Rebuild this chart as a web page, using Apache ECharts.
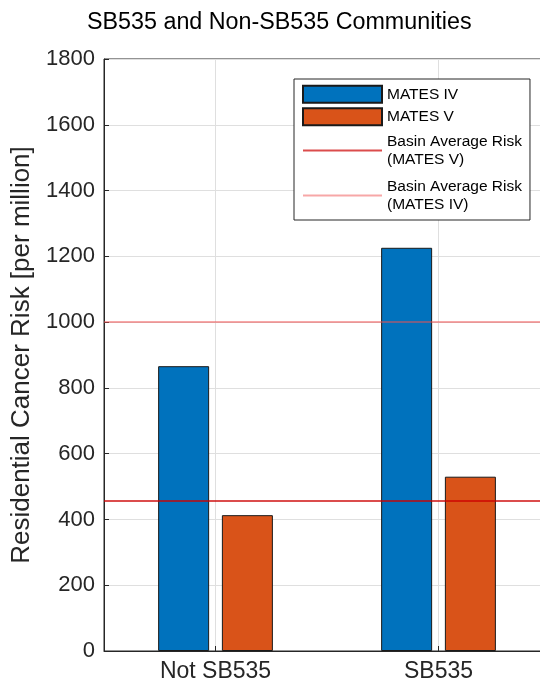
<!DOCTYPE html>
<html>
<head>
<meta charset="utf-8">
<script src="https://cdn.jsdelivr.net/npm/echarts@6/dist/echarts.min.js"></script>
<style>html,body{margin:0;padding:0;background:#fff}#c{width:540px;height:683px}</style>
</head>
<body>
<div id="c"></div>
<script>
var categories = ['Not SB535', 'SB535'];
var matesIV = [866, 1226];
var matesV = [413, 530];
var basinAvgMatesV = 456;
var basinAvgMatesIV = 1000;
var yMin = 0, yMax = 1800, yStep = 200;

var FONT = 'Liberation Sans, Arial, Helvetica, sans-serif';
var chart = echarts.init(document.getElementById('c'), null, {renderer: 'canvas'});
var nameV = 'Basin Average Risk\n(MATES V)';
var nameIV = 'Basin Average Risk\n(MATES IV)';
var redLine = 'rgba(204,0,0,0.7)';
var pinkLine = 'rgba(240,80,80,0.5)';
chart.setOption({
  animation: false,
  backgroundColor: '#fff',
  title: {
    text: 'SB535 and Non-SB535 Communities',
    left: 82, top: 6,
    textStyle: {fontFamily: FONT, fontSize: 23.3, fontWeight: 'normal', color: '#000'}
  },
  grid: {left: 104, top: 59, bottom: 32, width: 446, outerBoundsMode: 'none', containLabel: false,
    show: true, borderColor: '#262626', borderWidth: 1, backgroundColor: '#fff'},
  legend: {
    orient: 'vertical',
    left: 294, top: 79,
    padding: [4, 8, 2, 8],
    itemGap: 0,
    itemWidth: 79, itemHeight: 17,
    backgroundColor: '#fff',
    borderColor: '#262626', borderWidth: 1,
    textStyle: {fontFamily: FONT, fontSize: 15.5, color: '#000', lineHeight: 18.5},
    data: [
      {name: 'MATES IV', icon: 'rect', textStyle: {padding: [2, 0, 2, 0]}},
      {name: 'MATES V', icon: 'rect', textStyle: {padding: [2, 0, 2, 0]}},
      {name: nameV, itemStyle: {opacity: 0}, textStyle: {padding: [4, 0, 4, 0]}},
      {name: nameIV, itemStyle: {opacity: 0}, textStyle: {padding: [4, 0, 4, 0]}}
    ]
  },
  xAxis: {
    type: 'category',
    data: categories,
    axisLine: {show: true, lineStyle: {color: '#262626', width: 1}},
    axisTick: {show: true, inside: true, alignWithLabel: true, length: 5, lineStyle: {color: '#262626'}},
    splitLine: {show: true, alignWithLabel: true, lineStyle: {color: '#dfdfdf', width: 1}},
    axisLabel: {fontFamily: FONT, fontSize: 23, color: '#262626', margin: 9}
  },
  yAxis: {
    type: 'value',
    min: yMin, max: yMax, interval: yStep,
    name: 'Residential Cancer Risk [per million]',
    nameLocation: 'middle',
    nameGap: 68,
    nameTextStyle: {fontFamily: FONT, fontSize: 26, color: '#262626'},
    axisLine: {show: true, lineStyle: {color: '#262626', width: 1}},
    axisTick: {show: true, inside: true, length: 5, lineStyle: {color: '#262626'}},
    splitLine: {show: true, lineStyle: {color: '#dfdfdf', width: 1}},
    axisLabel: {fontFamily: FONT, fontSize: 22, color: '#262626', margin: 9,
      formatter: function (v) { return String(v); }}
  },
  series: [
    {
      name: 'MATES IV', type: 'bar', data: matesIV,
      barWidth: 51, barGap: '25%',
      itemStyle: {color: '#0072BD', borderColor: '#1a1a1a', borderWidth: 1}
    },
    {
      name: 'MATES V', type: 'bar', data: matesV,
      barWidth: 51, barGap: '25%',
      itemStyle: {color: '#D95319', borderColor: '#1a1a1a', borderWidth: 1}
    },
    {
      name: nameV, type: 'line', data: [], symbol: 'none', showSymbol: false,
      itemStyle: {color: redLine},
      lineStyle: {color: redLine, width: 2},
      markLine: {silent: true, symbol: 'none', label: {show: false},
        lineStyle: {color: redLine, width: 2, type: 'solid'},
        data: [{yAxis: basinAvgMatesV}]}
    },
    {
      name: nameIV, type: 'line', data: [], symbol: 'none', showSymbol: false,
      itemStyle: {color: pinkLine},
      lineStyle: {color: pinkLine, width: 2},
      markLine: {silent: true, symbol: 'none', label: {show: false},
        lineStyle: {color: pinkLine, width: 2, type: 'solid'},
        data: [{yAxis: basinAvgMatesIV}]}
    }
  ]
});
</script>
</body>
</html>
